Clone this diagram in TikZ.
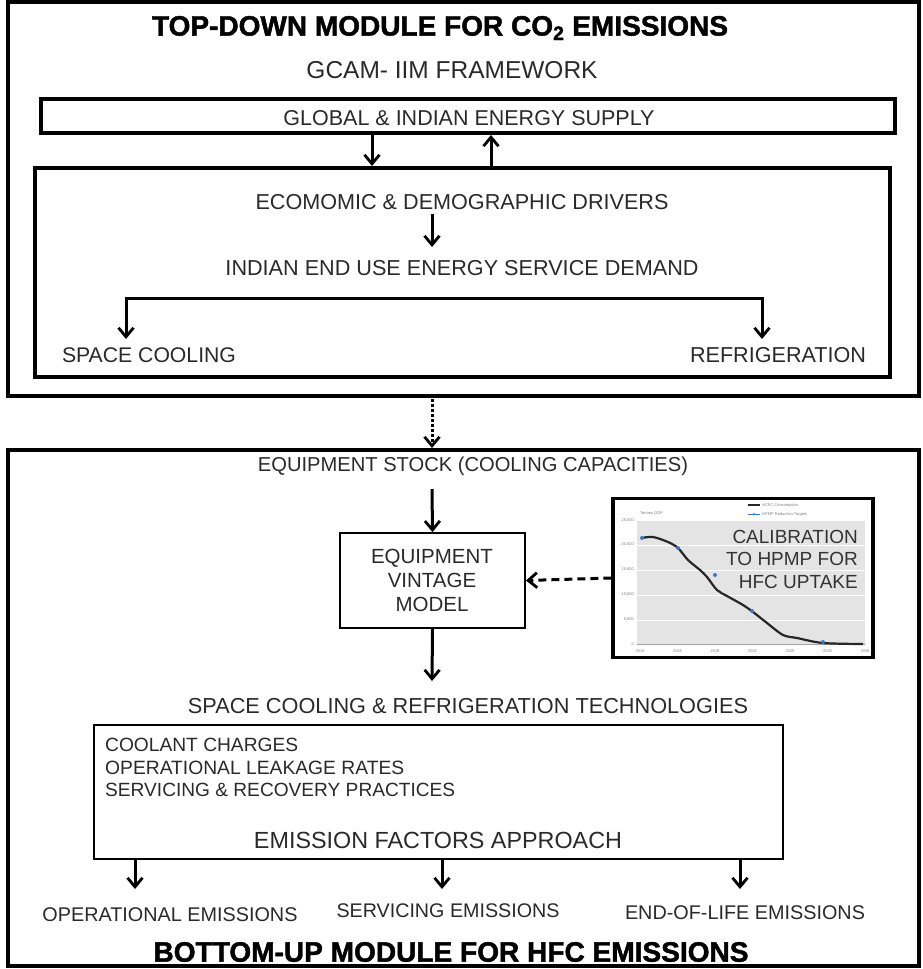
\documentclass[tikz,border=0pt]{standalone}
\usepackage{fontspec}
\setmainfont{Liberation Sans}
\newfontfamily\heavyfont{Liberation Sans Bold}[FakeBold=1.6]
\usetikzlibrary{arrows.meta}
\definecolor{txt}{HTML}{2A2A2A}
\definecolor{plotbg}{HTML}{E4E4E4}
\definecolor{ptblue}{HTML}{3A78C8}
\newcommand{\tw}[2]{\resizebox{#1pt}{!}{#2}}
\tikzset{
  lbl/.style={inner sep=0pt, text=txt, font=\fontsize{20}{24}\selectfont},
  ttl/.style={inner sep=0pt, text=black, font=\fontsize{26}{30}\heavyfont},
  frame/.style={draw=black, line width=3.4pt},
  arr/.style={draw=black, line width=3pt, -{Straight Barb[length=9pt,width=15pt,line width=2.8pt]}},
  bar/.style={draw=black, line width=3pt},
  tiny/.style={inner sep=0pt, text=gray, font=\fontsize{4}{5}\selectfont},
}
\begin{document}
\begin{tikzpicture}[x=1pt,y=-1pt]
\useasboundingbox[fill=white] (0,0) rectangle (923,969);

% ---------- top module ----------
\draw[frame] (8,2) rectangle (919,396);
\node[ttl] (ttop) at (440,28) {\tw{576}{TOP-DOWN MODULE FOR CO\textsubscript{2} EMISSIONS}};
\node[lbl] (gcam) at (452,70) {\tw{291}{GCAM- IIM FRAMEWORK}};
\draw[frame] (41,99) rectangle (895,133);
\node[lbl] (supply) at (469,118) {\tw{371}{GLOBAL \& INDIAN ENERGY SUPPLY}};
\draw[frame] (35,168) rectangle (890,377);
\coordinate (sdA) at (372,135);
\coordinate (sdB) at (372,166);
\coordinate (suA) at (491,166);
\coordinate (suB) at (491,135);
\draw[arr] (sdA) -- (sdB);
\draw[arr] (suA) -- (suB);
\node[lbl] (drivers) at (462,202) {\tw{413}{ECOMOMIC \& DEMOGRAPHIC DRIVERS}};
\node[lbl] (demand) at (462,268) {\tw{473}{INDIAN END USE ENERGY SERVICE DEMAND}};
\coordinate (drA) at (432,214);
\coordinate (drB) at (432,247);
\draw[arr] (drA) -- (drB);
\coordinate (brL) at (126,298);
\coordinate (brR) at (762,298);
\coordinate (scT) at (126,339);
\coordinate (rfT) at (762,339);
\draw[bar] ([xshift=-1.5pt]brL) -- ([xshift=1.5pt]brR);
\draw[arr] (brL) -- (scT);
\draw[arr] (brR) -- (rfT);
\node[lbl] (space) at (149,355) {\tw{174}{SPACE COOLING}};
\node[lbl] (refr) at (778,355) {\tw{176}{REFRIGERATION}};

% ---------- link ----------
\coordinate (lkA) at (432,399);
\coordinate (lkB) at (432,448);
\draw[draw=black, line width=3pt, dotted, -{Straight Barb[length=9pt,width=15pt,line width=2.8pt]}] (lkA) -- (lkB);

% ---------- bottom module ----------
\draw[frame] (8,450) rectangle (919,966);
\node[lbl] (stock) at (473,466) {\tw{430}{EQUIPMENT STOCK (COOLING CAPACITIES)}};
\node[draw=black, line width=1.8pt, minimum width=185pt, minimum height=95pt, inner sep=0pt] (vint) at (432.5,580.5) {};
\node[lbl, align=center, font=\fontsize{20.5}{24}\selectfont] (vtxt) at (432,580) {EQUIPMENT\\VINTAGE\\MODEL};
\coordinate (stA) at (432,489);
\draw[arr] (stA) -- (vint.north);
\coordinate (vtB) at (432,681);
\draw[arr] (vint.south) -- (vtB);

% chart inset
\node[draw=black, line width=3.4pt, minimum width=260pt, minimum height=159pt, inner sep=0pt, fill=white] (chart) at (743,578) {};
\fill[plotbg] (637,520) rectangle (865,644);
\foreach \yy in {520,545,570,595,620} { \draw[white, line width=0.8pt] (637,\yy) -- (865,\yy); }
\draw[gray!70, line width=0.5pt] (637,644) -- (865,644);
\foreach \lab [count=\i from 0] in {25{,}000,20{,}000,15{,}000,10{,}000,5{,}000,0} {
  \node[tiny, anchor=east] (yl\i) at (634,520+24.8*\i) {\lab};
}
\foreach \lab [count=\i from 0] in {2013,2016,2019,2022,2025,2028,2030} {
  \node[tiny] (xl\i) at (640+37.5*\i,651) {\lab};
}
\node[tiny, anchor=west] (unit) at (640,513) {Tonnes ODP};
\draw[black!85, line width=1.6pt] (748,505) -- (760,505);
\node[tiny, anchor=west] (lg1) at (762,505) {HCFC Consumption};
\draw[ptblue, line width=0.8pt] (748,514) -- (760,514);
\fill[ptblue] (754,514) circle (1.2pt);
\node[tiny, anchor=west] (lg2) at (762,514) {HPMP Reduction Targets};
\draw[black!85, line width=2.2pt, line join=round] plot[smooth, tension=0.5] coordinates {
  (642,538) (653,537) (668,542) (678,548) (688,560) (700,570) (707,577) (717,590) (727,596)
  (743,605) (753,612) (767,623) (783,635) (797,638) (823,643) (863,644)};
\foreach \px/\py in {642/538, 678/548, 715/575, 752/611, 823/642} { \fill[ptblue] (\px,\py) circle (2pt); }
\node[lbl, anchor=east, text=black!80, font=\fontsize{19}{22}\selectfont] (cal1) at (858,537) {CALIBRATION};
\node[lbl, anchor=east, text=black!80, font=\fontsize{19}{22}\selectfont] (cal2) at (858,559) {TO HPMP FOR};
\node[lbl, anchor=east, text=black!80, font=\fontsize{19}{22}\selectfont] (cal3) at (858,582) {HFC UPTAKE};
\draw[draw=black, line width=3pt, dashed, dash pattern=on 8pt off 5pt, -{Straight Barb[length=9pt,width=15pt,line width=2.8pt]}] (chart.west) -- (vint.east);

\node[lbl] (tech) at (468,706) {\tw{560}{SPACE COOLING \& REFRIGERATION TECHNOLOGIES}};
\draw[draw=black, line width=2.2pt] (94,725) rectangle (783,859);
\node[lbl, anchor=west] (ef1) at (105,745) {\tw{193}{COOLANT CHARGES}};
\node[lbl, anchor=west] (ef2) at (105,768) {\tw{299}{OPERATIONAL LEAKAGE RATES}};
\node[lbl, anchor=west] (ef3) at (105,790) {\tw{350}{SERVICING \& RECOVERY PRACTICES}};
\node[lbl] (efa) at (438,840) {\tw{368}{EMISSION FACTORS APPROACH}};
\coordinate (e1A) at (135,860);
\coordinate (e1B) at (135,889);
\coordinate (e2A) at (442,860);
\coordinate (e2B) at (442,889);
\coordinate (e3A) at (740,860);
\coordinate (e3B) at (740,889);
\draw[arr] (e1A) -- (e1B);
\draw[arr] (e2A) -- (e2B);
\draw[arr] (e3A) -- (e3B);
\node[lbl] (op) at (170,915) {\tw{255}{OPERATIONAL EMISSIONS}};
\node[lbl] (sv) at (448,911) {\tw{223}{SERVICING EMISSIONS}};
\node[lbl] (eol) at (745,913) {\tw{240}{END-OF-LIFE EMISSIONS}};
\node[ttl] (tbot) at (451,952) {\tw{595}{BOTTOM-UP MODULE FOR HFC EMISSIONS}};
\end{tikzpicture}
\end{document}
